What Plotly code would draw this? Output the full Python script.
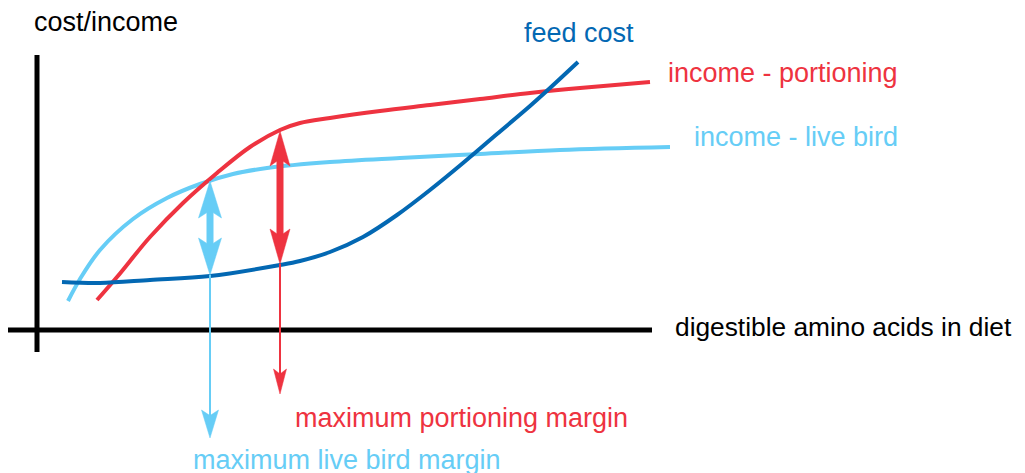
import plotly.graph_objects as go

# canvas coordinates (1 unit = 1 px, y grows downwards)
feed_x = [62, 100, 150, 210, 280, 300, 330, 363, 397, 430, 463, 497, 530, 550, 578]
feed_y = [282, 283, 280, 276, 265, 261, 252, 237, 215, 190, 163, 134, 106, 88, 62]

port_x = [97, 117, 150, 183, 217, 250, 280, 300, 330, 380, 430, 480, 530, 580, 650]
port_y = [300, 277, 237, 203, 173, 147, 130, 123, 118, 111, 105, 99, 93, 88, 82]

live_x = [68, 80, 100, 133, 167, 200, 233, 267, 330, 400, 480, 560, 670]
live_y = [301, 279, 250, 219, 198, 184, 174, 168, 162, 158, 154, 150, 147]

# margin arrows: x, top (income), bottom (feed cost), end of drop line
margin_x = [210, 280]
margin_top = [181, 131]
margin_bottom = [275, 264]
margin_drop = [438, 394]

axis_x = [7, 652]
axis_y = [55, 352]
axis_pos_x = 37
axis_pos_y = 330

RED = "#EE3340"
LIGHT = "#66CDF6"
DARK = "#0368B3"
FONT = "Liberation Sans, Arial, Helvetica, sans-serif"
PAGE_OFFSET = 8  # the page body margin shifts the plot div

fig = go.Figure()

# axes
fig.add_trace(go.Scatter(x=axis_x, y=[axis_pos_y] * 2, mode="lines",
                         line=dict(color="black", width=5), hoverinfo="skip"))
fig.add_trace(go.Scatter(x=[axis_pos_x] * 2, y=axis_y, mode="lines",
                         line=dict(color="black", width=5), hoverinfo="skip"))

for xs, ys, col in [(live_x, live_y, LIGHT), (port_x, port_y, RED), (feed_x, feed_y, DARK)]:
    fig.add_trace(go.Scatter(x=xs, y=ys, mode="lines",
                             line=dict(color=col, width=4, shape="spline", smoothing=1.0),
                             hoverinfo="skip"))


def head(x, tip, direction, length, width, col):
    # direction +1 points down, -1 points up
    base = tip - direction * length
    notch = tip - direction * length * 0.8
    fig.add_trace(go.Scatter(x=[x, x - width / 2, x, x + width / 2, x],
                             y=[tip, base, notch, base, tip],
                             mode="lines", fill="toself", fillcolor=col,
                             line=dict(color=col, width=0.5), hoverinfo="skip"))


for x, top, bot, drop, col, hl, hw in zip(margin_x, margin_top, margin_bottom, margin_drop,
                                          [LIGHT, RED], [37, 35], [23, 20]):
    # thin drop line
    fig.add_trace(go.Scatter(x=[x, x], y=[bot, drop - 10], mode="lines",
                             line=dict(color=col, width=2), hoverinfo="skip"))
    # thick shaft
    fig.add_trace(go.Scatter(x=[x, x], y=[top + hl * 0.7, bot - hl * 0.7], mode="lines",
                             line=dict(color=col, width=7), hoverinfo="skip"))
    head(x, top, -1, hl, hw, col)
    head(x, bot, 1, hl, hw, col)
    head(x, drop, 1, 28 if col == LIGHT else 25, 17 if col == LIGHT else 13, col)

labels = [
    ("cost/income", 32, 22, "black", 27),
    ("feed cost", 522, 33, DARK, 27),
    ("income - portioning", 666, 73, RED, 27),
    ("income - live bird", 692, 137, LIGHT, 27),
    ("digestible amino acids in diet", 673, 327, "black", 26.3),
    ("maximum portioning margin", 293, 418, RED, 27),
    ("maximum live bird margin", 191, 460, LIGHT, 27),
]
annotations = [dict(text=t, x=x, y=y, xref="x", yref="y", xanchor="left", yanchor="middle",
                    showarrow=False, font=dict(size=s, color=c, family=FONT))
               for t, x, y, c, s in labels]

fig.update_layout(
    width=1025, height=473,
    margin=dict(l=0, r=0, t=0, b=0),
    paper_bgcolor="white", plot_bgcolor="white",
    showlegend=False,
    xaxis=dict(range=[PAGE_OFFSET, 1025 + PAGE_OFFSET], visible=False, fixedrange=True),
    yaxis=dict(range=[473 + PAGE_OFFSET, PAGE_OFFSET], visible=False, fixedrange=True),
    annotations=annotations,
)

fig.write_html("out.html", config={"displayModeBar": False})
